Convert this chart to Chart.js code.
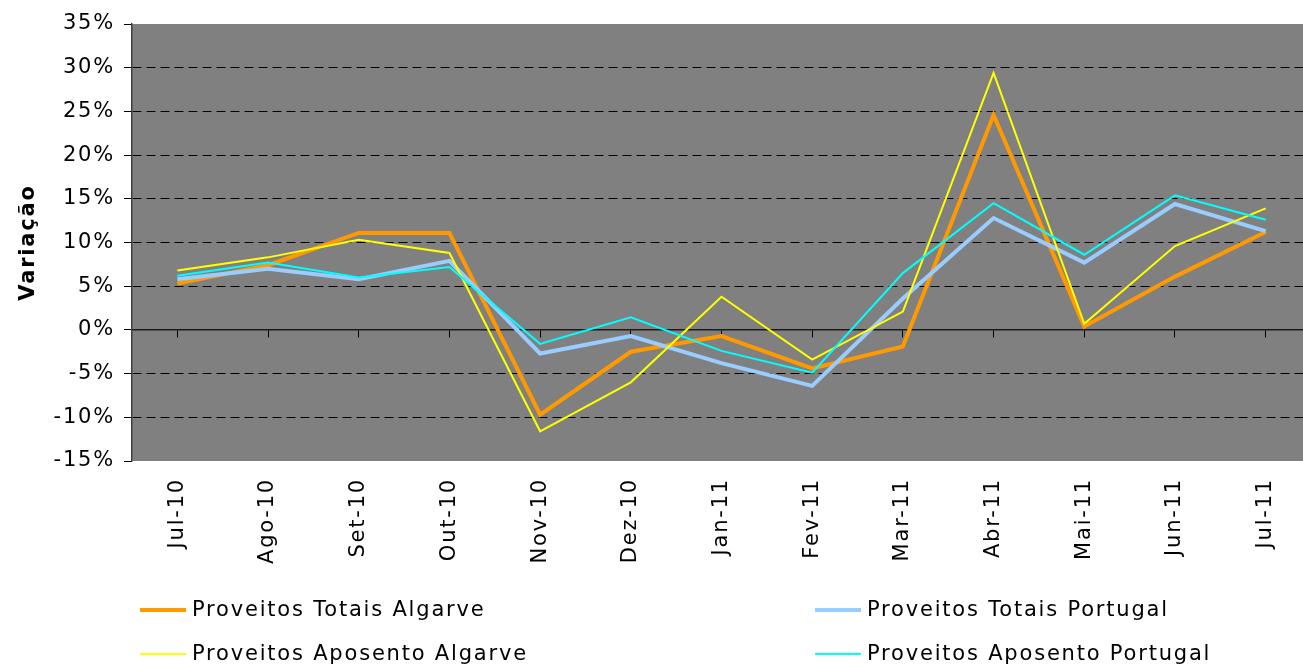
<!DOCTYPE html>
<html>
<head>
<meta charset="utf-8">
<script src="https://cdn.jsdelivr.net/npm/chart.js@4"></script>
<style>
  html, body { margin: 0; padding: 0; background: #ffffff; overflow: hidden; width: 1303px; height: 666px; }
  canvas { display: block; }
</style>
</head>
<body>
<canvas id="c" width="1320" height="666"></canvas>
<script>
const labels = ['Jul-10','Ago-10','Set-10','Out-10','Nov-10','Dez-10','Jan-11','Fev-11','Mar-11','Abr-11','Mai-11','Jun-11','Jul-11'];
const totaisAlgarve    = [5.3, 7.4, 11.1, 11.1, -9.7, -2.5, -0.7, -4.4, -1.9, 24.6, 0.4, 6.1, 11.2];
const totaisPortugal   = [5.8, 7.0, 5.8, 7.9, -2.7, -0.7, -3.8, -6.4, 3.6, 12.8, 7.7, 14.4, 11.3];
const aposentoAlgarve  = [6.8, 8.3, 10.3, 8.8, -11.6, -6.0, 3.8, -3.4, 2.1, 29.4, 0.7, 9.6, 13.9];
const aposentoPortugal = [6.2, 7.7, 6.0, 7.2, -1.6, 1.45, -2.4, -4.9, 6.5, 14.5, 8.6, 15.4, 12.6];
const seriesNames = ['Proveitos Totais Algarve','Proveitos Totais Portugal','Proveitos Aposento Algarve','Proveitos Aposento Portugal'];
const yTicks = { min: -15, max: 35, step: 5 };
const yTitle = 'Variação';

const LS = '1.8px';
function setLS(chart){ chart.ctx.letterSpacing = LS; }

const bgPlugin = {
  id: 'bg',
  beforeUpdate: setLS,
  beforeLayout: setLS,
  beforeDraw(chart) {
    setLS(chart);
    const {ctx, chartArea: a} = chart;
    ctx.save();
    ctx.fillStyle = '#808080';
    ctx.fillRect(a.left, a.top, a.right - a.left, a.bottom - a.top);
    ctx.restore();
  }
};

const legendPlugin = {
  id: 'customLegend',
  afterDraw(chart) {
    const ctx = chart.ctx;
    const cols = [140, 815];
    const rows = [610, 654];
    const lineLen = 46;
    ctx.save();
    ctx.letterSpacing = LS;
    ctx.font = '21px "DejaVu Sans"';
    ctx.textBaseline = 'middle';
    ctx.textAlign = 'left';
    chart.data.datasets.forEach((ds, i) => {
      const x = cols[i % 2], y = rows[Math.floor(i / 2)];
      ctx.strokeStyle = ds.borderColor;
      ctx.lineWidth = ds.borderWidth;
      ctx.beginPath();
      ctx.moveTo(x, y);
      ctx.lineTo(x + lineLen, y);
      ctx.stroke();
      ctx.fillStyle = '#000';
      ctx.fillText(ds.label, x + lineLen + 6, y + 1);
    });
    ctx.restore();
  }
};

Chart.defaults.font.family = '"DejaVu Sans"';
Chart.defaults.font.size = 21;
Chart.defaults.color = '#000';

new Chart(document.getElementById('c'), {
  type: 'line',
  data: {
    labels: labels,
    datasets: [
      { label: seriesNames[0], data: totaisAlgarve,    borderColor: '#FF9900', borderWidth: 4, order: 4 },
      { label: seriesNames[1], data: totaisPortugal,   borderColor: '#99CCFF', borderWidth: 4, order: 3 },
      { label: seriesNames[2], data: aposentoAlgarve,  borderColor: '#FFFF00', borderWidth: 2, order: 2 },
      { label: seriesNames[3], data: aposentoPortugal, borderColor: '#00FFFF', borderWidth: 2, order: 1 }
    ].map(d => Object.assign(d, { fill: false, tension: 0, pointRadius: 0, pointHoverRadius: 0, xAxisID: 'x', yAxisID: 'y' }))
  },
  options: {
    responsive: false,
    animation: false,
    events: [],
    layout: { padding: { top: 24, right: 9, bottom: 0, left: 0 } },
    plugins: { legend: { display: false }, tooltip: { enabled: false } },
    scales: {
      x: {
        type: 'category',
        position: 'bottom',
        offset: true,
        grid: { display: false, drawTicks: false },
        border: { display: false },
        ticks: { minRotation: 90, maxRotation: 90, padding: 17, autoSkip: false, font: { size: 21 } },
        afterFit(s) { s.height = 205; }
      },
      x2: {
        type: 'category',
        axis: 'x',
        position: { y: 0 },
        offset: true,
        grid: { display: true, drawOnChartArea: false, drawTicks: true, tickLength: 7, color: '#000', tickColor: '#000', tickWidth: 1 },
        border: { display: true, color: '#1a1a1a', width: 1.5 },
        ticks: { display: false }
      },
      y: {
        type: 'linear',
        position: 'left',
        min: yTicks.min,
        max: yTicks.max,
        ticks: { stepSize: yTicks.step, padding: 9, callback: v => v + '%', font: { size: 21 } },
        grid: {
          color: c => (c.tick && (c.tick.value === yTicks.min || c.tick.value === yTicks.max)) ? 'rgba(0,0,0,0)' : '#000',
          lineWidth: 1, tickLength: 8, tickColor: '#000', tickBorderDash: [], tickWidth: 1
        },
        border: { display: true, color: '#404040', width: 1.5, dash: [9, 5] },
        title: { display: true, text: yTitle, font: { size: 21, weight: 'bold' }, padding: { top: 16, bottom: 0 } },
        afterFit(s) { s.width = 132; }
      }
    }
  },
  plugins: [bgPlugin, legendPlugin]
});
</script>
</body>
</html>
